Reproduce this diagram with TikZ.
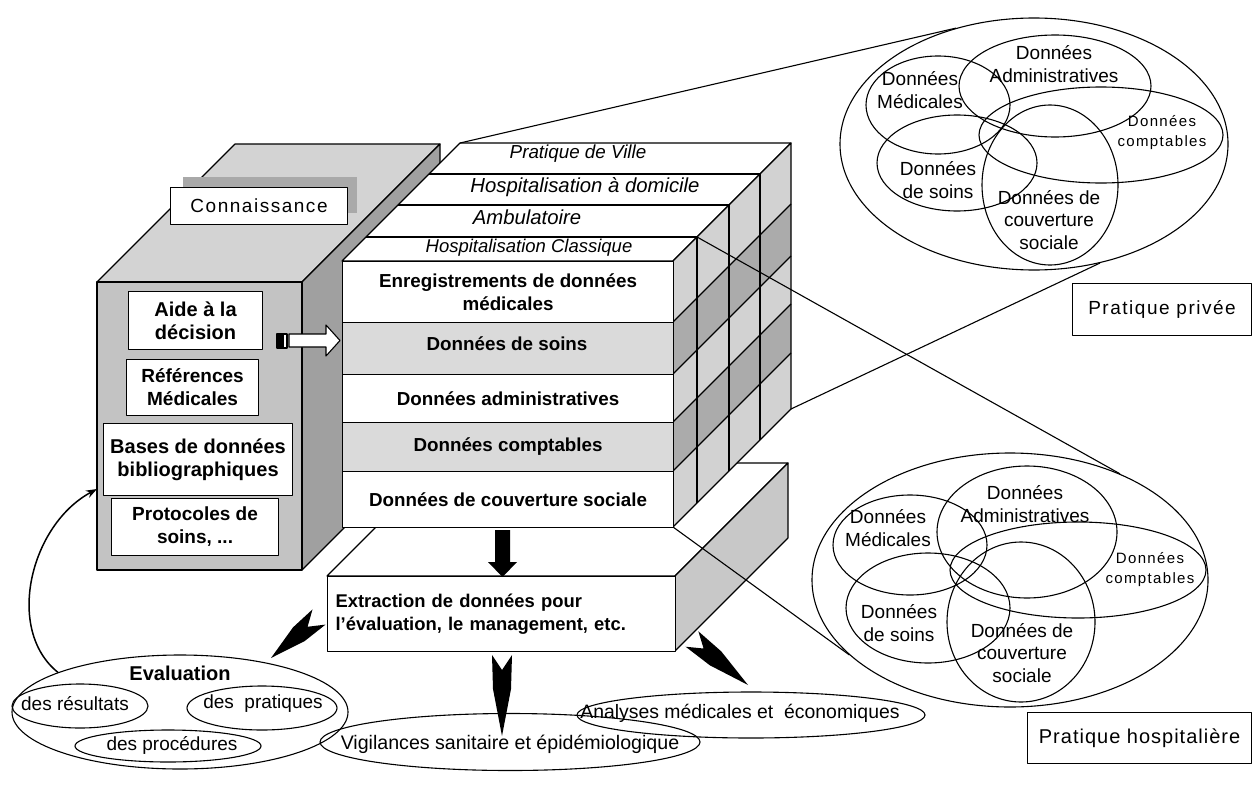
\documentclass[tikz,border=0pt]{standalone}
\usepackage{fontspec}
\setmainfont{Liberation Sans}
\usetikzlibrary{calc,shapes.geometric,arrows.meta}
\definecolor{cfront}{HTML}{C3C3C3}
\definecolor{ctop}{HTML}{D3D3D3}
\definecolor{cside}{HTML}{A0A0A0}
\definecolor{cshadow}{HTML}{A9A9A9}
\definecolor{crow}{HTML}{DADADA}
\definecolor{csidelight}{HTML}{D2D2D2}
\definecolor{csidedark}{HTML}{ABABAB}
\definecolor{cext}{HTML}{C8C8C8}
\newcommand\fsz[2]{\fontsize{#1}{#2}\selectfont}
\newcommand\dartarrow[2]{%
  \coordinate (dm) at ($(#1)!0.42!(#2)$);
  \fill[black] ($(#1)!10pt!90:(#2)$) -- ($(#1)!15pt!(#2)$) -- ($(#1)!10pt!-90:(#2)$)
    -- ($(dm)!9pt!-90:(#2)$) -- (#2) -- ($(dm)!9pt!90:(#2)$) -- cycle;}
\tikzset{
  wbox/.style={draw=black, fill=white, line width=1.1pt, inner sep=0pt, align=center},
  ell/.style={draw=black, line width=1.1pt, ellipse, inner sep=0pt},
  vtxt/.style={font=\fsz{19}{22.5}, align=center, inner sep=0pt},
  ctxt/.style={font=\fsz{15}{20}\addfontfeature{LetterSpace=9}, align=center, inner sep=0pt},
  btxt/.style={font=\bfseries\fsz{18.8}{23.5}, align=center, inner sep=0pt},
  itxt/.style={font=\itshape\fsz{19}{22}, inner sep=0pt},
  thin/.style={line width=1.1pt, draw=black}
}
\begin{document}
\begin{tikzpicture}[x=1pt,y=-1pt,line width=1.1pt,line join=round]
\path[use as bounding box] (0,0) rectangle (1252,792);
\fill[white] (0,0) rectangle (1252,792);

% ---------- Extraction block ----------
\filldraw[fill=white] (327,576) -- (440,463) -- (788,463) -- (675,576) -- cycle;
\filldraw[fill=cext] (675,576) -- (788,463) -- (788,538) -- (675,651) -- cycle;
\node[wbox, anchor=north west, minimum width=348pt, minimum height=75pt,
      text width=332pt, inner xsep=8pt, align=left, font=\bfseries\fsz{18.4}{23}]
      (extr) at (327,576) {Extraction de données pour\\l’évaluation, le management, etc.};

% ---------- Left cube (Connaissance) ----------
\filldraw[fill=ctop] (97,282) -- (235,144) -- (440,144) -- (302,282) -- cycle;
\filldraw[fill=cside] (302,282) -- (440,144) -- (440,432) -- (302,570) -- cycle;
\filldraw[fill=cfront] (97,282) rectangle (302,570);
\fill[cshadow] (183,177) rectangle (357,213);
\node[wbox, anchor=north west, minimum width=177pt, minimum height=37pt,
      font=\fsz{19}{23}\addfontfeature{LetterSpace=8}] (conn) at (170,187) {Connaissance};
\node[wbox, anchor=north west, minimum width=134pt, minimum height=58pt,
      font=\bfseries\fsz{20}{23}] (aide) at (128,291) {Aide à la\\décision};
\node[wbox, anchor=north west, minimum width=132pt, minimum height=56pt,
      font=\bfseries\fsz{19}{23}] (refs) at (126,359) {Références\\Médicales};
\node[wbox, anchor=north west, minimum width=189pt, minimum height=72pt,
      font=\bfseries\fsz{20}{23}] (bases) at (103,423) {Bases de données\\bibliographiques};
\node[wbox, anchor=north west, minimum width=167pt, minimum height=57pt,
      font=\bfseries\fsz{19}{23}] (proto) at (111,498) {Protocoles de\\soins, ...};

% ---------- Middle cube ----------
\filldraw[fill=white] (342,261) -- (460,143) -- (791,143) -- (673,261) -- cycle;
\fill[csidelight] (673,261) -- (791,143) -- (791,204) -- (673,322) -- cycle;
\fill[csidedark]  (673,322) -- (791,204) -- (791,256) -- (673,374) -- cycle;
\fill[csidelight] (673,374) -- (791,256) -- (791,304) -- (673,422) -- cycle;
\fill[csidedark]  (673,422) -- (791,304) -- (791,353) -- (673,471) -- cycle;
\fill[csidelight] (673,471) -- (791,353) -- (791,409) -- (673,527) -- cycle;
\foreach \y in {322,374,422,471} \draw (673,\y) -- ++(118,-118);
\foreach \d in {24,56,87} {
  \draw (342+\d,261-\d) -- (673+\d,261-\d);
  \draw (673+\d,261-\d) -- (673+\d,527-\d);
}
\draw (673,261) -- (791,143) -- (791,409) -- (673,527);
\node[wbox, anchor=north west, minimum width=331pt, minimum height=61pt, btxt] (enreg) at (342,261) {Enregistrements de données\\médicales};
\node[wbox, fill=crow, anchor=north west, minimum width=331pt, minimum height=52pt] (soins) at (342,322) {};
\node[btxt] (soinst) at (507,344) {Données de soins};
\node[wbox, anchor=north west, minimum width=331pt, minimum height=48pt, btxt] (admin) at (342,374) {Données administratives};
\node[wbox, fill=crow, anchor=north west, minimum width=331pt, minimum height=49pt, btxt] (compt) at (342,422) {Données comptables};
\node[wbox, anchor=north west, minimum width=331pt, minimum height=56pt, btxt] (couv) at (342,471) {Données de couverture sociale};
\node[itxt, font=\itshape\fsz{18.5}{20}] (hclass) at (529,248) {Hospitalisation Classique};
\node[itxt, font=\itshape\fsz{20.3}{22}] (ambu) at (527,217) {Ambulatoire};
\node[itxt, font=\itshape\fsz{20.3}{22}] (had) at (585,187) {Hospitalisation à domicile};
\node[itxt, font=\itshape\fsz{18.8}{20}] (ville) at (578,154) {Pratique de Ville};

\coordinate (cubeTL) at (460,143);
\coordinate (cubeBR) at (791,409);
\coordinate (hcTR) at (697,237);
\coordinate (cubeFBR) at (673,527);

% ---------- white arrow from Aide to the cube ----------
\draw[line width=1.2pt, fill=black] (277,334) rectangle (283,348);
\draw[line width=1.2pt, fill=white] (283,334) rectangle (287,348);
\filldraw[fill=white, line width=1.1pt] (289,334) -- (326,334) -- (326,325) -- (340,340.5)
   -- (326,356) -- (326,347) -- (289,347) -- cycle;

% black arrow down to extraction
\fill[black] (495,530) -- (510,530) -- (510,562) -- (517,562) -- (502.5,577) -- (488,562) -- (495,562) -- cycle;

% ---------- Evaluation ----------
\node[ell, minimum width=336pt, minimum height=114pt] (eval) at (180,712) {};
\node[font=\bfseries\fsz{20}{24}, inner sep=0pt] (evalt) at (180,673) {Evaluation};
\node[ell, minimum width=136pt, minimum height=44pt] (res) at (80,706) {};
\node[vtxt] (rest) at (75,704) {des résultats};
\node[ell, minimum width=150pt, minimum height=44pt] (prat) at (262,708) {};
\node[vtxt] (pratt) at (263,704) {des\ \ pratiques};
\node[ell, minimum width=186pt, minimum height=32pt] (proc) at (168,746) {};
\node[vtxt] (proct) at (172,745) {des procédures};

\coordinate (kn) at (97,489);
\draw[-{Stealth[length=11pt,width=8pt]}, line width=1.5pt] (eval.162) .. controls (5,630) and (30,525) .. (kn);

% ---------- Vigilances / Analyses ----------
\node[ell, minimum width=380pt, minimum height=57pt] (vig) at (510,742) {};
\node[vtxt, font=\fsz{19.6}{22}] (vigt) at (510,744) {Vigilances sanitaire et épidémiologique};
\node[ell, minimum width=348pt, minimum height=46pt] (ana) at (751,715) {};
\node[vtxt, font=\fsz{19.4}{22}] (anat) at (740,713) {Analyses médicales et\ \ économiques};

% dart arrows
\coordinate (d1a) at (319,617); \coordinate (d1b) at (271,658);
\coordinate (d2a) at (502,655); \coordinate (d2b) at (502,736);
\coordinate (d3a) at (692,639); \coordinate (d3b) at (748,685);
\dartarrow{d1a}{d1b}
\dartarrow{d2a}{d2b}
\dartarrow{d3a}{d3b}

% ---------- Top Venn (Pratique privée) ----------
\node[ell, minimum width=388pt, minimum height=252pt] (tv) at (1034,144) {};
\node[ell, minimum width=144pt, minimum height=98pt] (tvmed) at (938,105) {};
\node[ell, minimum width=192pt, minimum height=102pt] (tvadm) at (1055,86) {};
\node[ell, minimum width=244pt, minimum height=96pt] (tvcpt) at (1101,135) {};
\node[ell, minimum width=160pt, minimum height=96pt] (tvsoin) at (957,163) {};
\node[ell, minimum width=136pt, minimum height=160pt] (tvcouv) at (1050,185) {};
\node[vtxt] (tvmedt) at (920,90) {Données\\Médicales};
\node[vtxt] (tvadmt) at (1054,64) {Données\\Administratives};
\node[ctxt] (tvcptt) at (1162,133) {Données\\comptables};
\node[vtxt] (tvsoint) at (938,180) {Données\\de soins};
\node[vtxt] (tvcouvt) at (1049,220) {Données de\\couverture\\sociale};
\node[wbox, anchor=north west, minimum width=179pt, minimum height=52pt,
      font=\fsz{19}{23}\addfontfeature{LetterSpace=8}] (privee) at (1072,283) {Pratique privée};

% ---------- Bottom Venn (Pratique hospitalière) ----------
\node[ell, minimum width=396pt, minimum height=254pt] (bv) at (1010,580) {};
\node[ell, minimum width=154pt, minimum height=100pt] (bvmed) at (910,545) {};
\node[ell, minimum width=180pt, minimum height=132pt] (bvadm) at (1027,532) {};
\node[ell, minimum width=256pt, minimum height=96pt] (bvcpt) at (1078,570) {};
\node[ell, minimum width=164pt, minimum height=110pt] (bvsoin) at (928,608) {};
\node[ell, minimum width=148pt, minimum height=160pt] (bvcouv) at (1021,622) {};
\node[vtxt] (bvmedt) at (888,528) {Données\\Médicales};
\node[vtxt] (bvadmt) at (1025,504) {Données\\Administratives};
\node[ctxt] (bvcptt) at (1150,570) {Données\\comptables};
\node[vtxt] (bvsoint) at (899,623) {Données\\de soins};
\node[vtxt] (bvcouvt) at (1022,653) {Données de\\couverture\\sociale};
\node[wbox, anchor=north west, minimum width=224pt, minimum height=51pt,
      font=\fsz{20}{24}\addfontfeature{LetterSpace=5}] (hosp) at (1027,712) {Pratique hospitalière};

% ---------- projection lines ----------
\draw[thin] (cubeTL) -- (tv.124.5);
\draw[thin] (cubeBR) -- (tv.-61);
\draw[thin] (hcTR) -- (bv.44);
\draw[thin] (cubeFBR) -- (bv.205);
\end{tikzpicture}
\end{document}
